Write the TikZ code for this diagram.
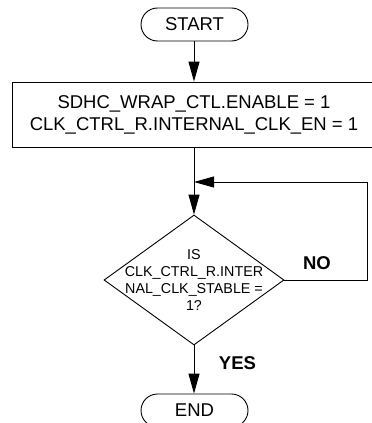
\documentclass[tikz,border=0pt]{standalone}
\usepackage{fontspec}
\setmainfont{Liberation Sans}
\usetikzlibrary{arrows.meta,shapes.geometric}
\begin{document}
\begin{tikzpicture}[x=1pt,y=-1pt,
  line width=0.9pt,
  >={Triangle[length=20pt,width=11pt]},
  term/.style={draw, rounded corners=16.5pt, minimum width=107pt, minimum height=33pt, inner sep=0pt,
    font=\fontsize{18.5}{22}\selectfont},
  procbox/.style={draw, minimum width=364pt, minimum height=65pt, inner sep=0pt, align=center,
    font=\fontsize{18.5}{22}\selectfont},
  decision/.style={draw, diamond, minimum width=180pt, minimum height=130pt, inner sep=0pt},
  dectext/.style={align=center, inner sep=0pt, font=\fontsize{14.3}{17}\selectfont},
  lbl/.style={font=\fontsize{18.5}{22}\selectfont\bfseries, inner sep=0pt}
]
\useasboundingbox (0,0) rectangle (372,423);
\node[term] (start) at (194.5,24.5) {START};
\node[procbox] (box) at (194,114.5) {SDHC\_WRAP\_CTL.ENABLE = 1\\CLK\_CTRL\_R.INTERNAL\_CLK\_EN = 1};
\node[decision] (dec) at (194,280) {};
\node[dectext] (dect) at (194,280.5) {IS\\CLK\_CTRL\_R.INTER\\NAL\_CLK\_STABLE =\\1?};
\node[term] (end) at (194.5,410.5) {END};
\coordinate (c2) at (367,182);
\coordinate (m) at (194,182);
\draw[->] (start.south -| 194,0) -- (box.north -| 194,0);
\draw[->] (box.south -| 194,0) -- (dec.north);
\draw[->] (dec.east) -| (c2) -- (m);
\draw[->] (dec.south) -- (end.north -| 194,0);
\node[lbl] (no) at (317,263) {NO};
\node[lbl] (yes) at (237.5,363) {YES};
\end{tikzpicture}
\end{document}
